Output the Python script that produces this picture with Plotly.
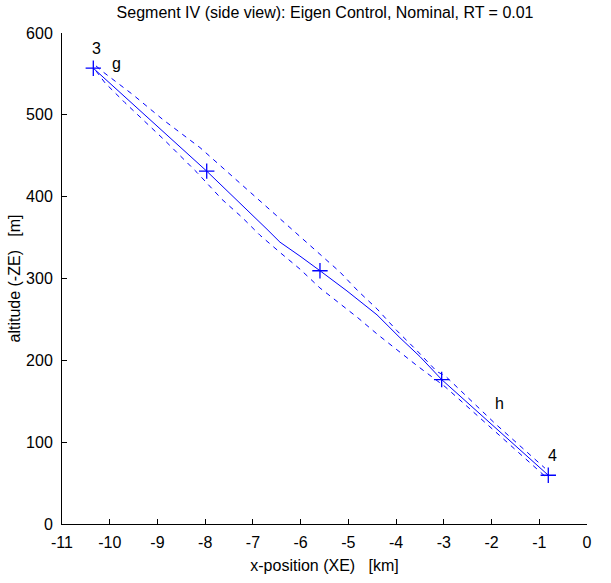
import plotly.graph_objects as go

# Nominal trajectory (solid) - x in km, altitude in m
traj_x = [-10.344, -7.968, -6.705, -6.433, -6.014, -5.741, -5.595, -5.029, -4.400, -3.919, -3.499, -3.045, -0.811]
traj_y = [557.0, 431.2, 360.2, 344.4, 327.4, 315.2, 309.5, 284.8, 255.6, 227.6, 204.5, 176.5, 59.6]

# Waypoint markers
wp_x = [-10.344, -7.968, -5.595, -3.045, -0.811]
wp_y = [557.0, 431.2, 309.5, 176.5, 59.6]

# Upper envelope (dashed)
up_x = [-10.288, -10.141, -9.512, -8.884, -8.109, -7.480, -6.852, -6.223, -5.595, -5.176, -4.799, -4.400,
        -3.981, -3.562, -3.143, -2.976, -1.928, -0.881]
up_y = [559.8, 552.5, 524.5, 494.1, 460.0, 427.2, 394.3, 362.7, 329.8, 307.9, 284.8, 262.9,
        236.1, 211.8, 186.2, 181.3, 122.9, 68.2]

# Lower envelope (dashed)
lo_x = [-10.288, -10.099, -9.680, -9.261, -8.842, -8.172, -7.648, -7.229, -6.852, -6.391, -6.014, -5.595,
        -5.176, -4.799, -4.379, -3.960, -3.562, -3.143, -2.976, -1.928, -0.881]
lo_y = [553.7, 539.1, 514.8, 491.7, 468.5, 429.6, 396.7, 374.8, 352.9, 329.8, 311.5, 288.4,
        269.0, 251.9, 231.2, 211.8, 193.5, 175.2, 167.9, 113.2, 58.4]

# Text labels
lbl_text = ["3", "g", "h", "4"]
lbl_x = [-10.273, -9.848, -1.823, -0.719]
lbl_y = [581.4, 563.0, 147.3, 83.6]

x_ticks = list(range(-11, 1))
y_ticks = list(range(0, 601, 100))

FONT = "Liberation Sans Narrow, Arial Narrow, Liberation Sans, Arial, sans-serif"
BLUE = "rgb(0,0,255)"

fig = go.Figure()
fig.add_trace(go.Scatter(x=up_x, y=up_y, mode="lines",
                         line=dict(color=BLUE, width=1, dash="5px,5px"), hoverinfo="skip"))
fig.add_trace(go.Scatter(x=lo_x, y=lo_y, mode="lines",
                         line=dict(color=BLUE, width=1, dash="5px,5px"), hoverinfo="skip"))
fig.add_trace(go.Scatter(x=traj_x, y=traj_y, mode="lines",
                         line=dict(color=BLUE, width=1), hoverinfo="skip"))
fig.add_trace(go.Scatter(x=wp_x, y=wp_y, mode="markers",
                         marker=dict(symbol="cross-thin", size=11, line=dict(color=BLUE, width=1.3)),
                         hoverinfo="skip"))

for t, x, y in zip(lbl_text, lbl_x, lbl_y):
    fig.add_annotation(x=x, y=y, text=t, showarrow=False, xref="x", yref="y",
                       font=dict(family=FONT, size=16, color="black"))

fig.update_layout(
    width=611, height=583,
    margin=dict(l=62, r=24, t=33, b=57),
    paper_bgcolor="white", plot_bgcolor="white",
    showlegend=False,
    font=dict(family=FONT, size=15, color="black"),
    title=dict(text="Segment IV (side view): Eigen Control, Nominal, RT = 0.01",
               x=0.532, xanchor="center", y=0.978, yanchor="middle",
               font=dict(family=FONT, size=16, color="black")),
)
fig.update_xaxes(range=[-11, 0], tickvals=x_ticks, ticktext=[str(v) for v in x_ticks],
                 ticks="inside", ticklen=5, tickcolor="black", showline=True, linecolor="black",
                 linewidth=1, showgrid=False, zeroline=False, mirror=False,
                 ticklabelstandoff=4,
                 title=dict(text="x-position (XE)   [km]", standoff=9,
                            font=dict(family=FONT, size=16)),
                 tickfont=dict(family=FONT, size=16))
fig.update_yaxes(range=[0, 600], tickvals=y_ticks, ticktext=[str(v) for v in y_ticks],
                 ticks="inside", ticklen=5, tickcolor="black", showline=True, linecolor="black",
                 linewidth=1, showgrid=False, zeroline=False, mirror=False,
                 ticklabelstandoff=5,
                 title=dict(text="altitude (-ZE)   [m]", standoff=1,
                            font=dict(family=FONT, size=16)),
                 tickfont=dict(family=FONT, size=16))

fig.write_html("out.html")
